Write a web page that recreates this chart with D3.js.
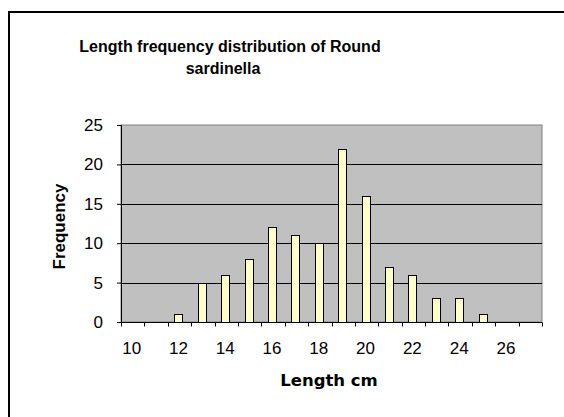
<!DOCTYPE html>
<html>
<head>
<meta charset="utf-8">
<script src="https://cdn.jsdelivr.net/npm/d3@7"></script>
<style>
  body { margin: 0; background: #fff; }
  svg { display: block; font-family: Arial, "Liberation Sans", sans-serif; }
</style>
</head>
<body>
<div id="chart"></div>
<script>
// length classes (cm) and counts
const lengths = [10, 11, 12, 13, 14, 15, 16, 17, 18, 19, 20, 21, 22, 23, 24, 25, 26, 27];
const counts  = [0, 0, 1, 5, 6, 8, 12, 11, 10, 22, 16, 7, 6, 3, 3, 1, 0, 0];
const yTicks = [0, 5, 10, 15, 20, 25];
const xLabels = [10, 12, 14, 16, 18, 20, 22, 24, 26];

const width = 564, height = 417;
const margin = {top: 125, right: 22, bottom: 95, left: 121};

const svg = d3.select("#chart").append("svg")
    .attr("width", width)
    .attr("height", height);

// outer chart frame
svg.append("rect")
    .attr("x", 9).attr("y", 12)
    .attr("width", width + 20).attr("height", height + 20)
    .attr("fill", "none")
    .attr("stroke", "#000")
    .attr("stroke-width", 2);

const x = d3.scaleBand()
    .domain(lengths)
    .range([margin.left, width - margin.right]);

const y = d3.scaleLinear()
    .domain([0, 25])
    .range([height - margin.bottom, margin.top]);

// plot area
svg.append("rect")
    .attr("x", margin.left).attr("y", margin.top)
    .attr("width", width - margin.right - margin.left)
    .attr("height", height - margin.bottom - margin.top)
    .attr("fill", "#c0c0c0")
    .attr("stroke", "#808080");

// gridlines
svg.append("g")
    .selectAll("line")
    .data(yTicks.filter(d => d > 0 && d < 25))
    .join("line")
    .attr("x1", margin.left).attr("x2", width - margin.right)
    .attr("y1", d => Math.round(y(d)) + 0.5).attr("y2", d => Math.round(y(d)) + 0.5)
    .attr("stroke", "#000");

// bars
const barW = 8;
svg.append("g")
    .selectAll("rect")
    .data(lengths.map((l, i) => ({l, v: counts[i]})).filter(d => d.v > 0))
    .join("rect")
    .attr("x", d => Math.round(x(d.l) + x.bandwidth() / 2 - barW / 2 - 1) + 0.5)
    .attr("y", d => Math.round(y(d.v)) + 0.5)
    .attr("width", barW)
    .attr("height", d => Math.round(y(0)) - Math.round(y(d.v)))
    .attr("fill", "#ffffcc")
    .attr("stroke", "#000");

// y axis
const yAxis = svg.append("g")
    .attr("transform", `translate(${margin.left},0)`)
    .call(d3.axisLeft(y).tickValues(yTicks).tickSize(4).tickPadding(14));
yAxis.select(".domain").attr("stroke", "#000");
yAxis.selectAll("text").attr("font-size", 17).attr("font-family", "Arial, 'Liberation Sans', sans-serif").attr("fill", "#000");

// x axis: ticks between categories
const xAxisG = svg.append("g")
    .attr("transform", `translate(0,${Math.round(y(0)) + 0.5})`);
xAxisG.append("line")
    .attr("x1", margin.left).attr("x2", width - margin.right)
    .attr("stroke", "#000");
xAxisG.selectAll("line.tick")
    .data(lengths.concat([28]))
    .join("line")
    .attr("class", "tick")
    .attr("x1", (d, i) => Math.round(margin.left + i * x.step()) + 0.5)
    .attr("x2", (d, i) => Math.round(margin.left + i * x.step()) + 0.5)
    .attr("y1", 0).attr("y2", 4)
    .attr("stroke", "#000");
xAxisG.selectAll("text")
    .data(xLabels)
    .join("text")
    .attr("x", d => x(d) + x.bandwidth() / 2 - 1)
    .attr("y", 31)
    .attr("text-anchor", "middle")
    .attr("font-size", 17)
    .text(d => d);

// titles
const title = svg.append("text")
    .attr("text-anchor", "middle")
    .attr("font-size", 16)
    .attr("font-weight", "bold");
title.append("tspan").attr("x", 230).attr("y", 52).text("Length frequency distribution of Round");
title.append("tspan").attr("x", 223).attr("y", 74).text("sardinella");

svg.append("text")
    .attr("transform", `translate(65,${(margin.top + height - margin.bottom) / 2 + 3}) rotate(-90)`)
    .attr("text-anchor", "middle")
    .attr("font-size", 17)
    .attr("font-weight", "bold")
    .text("Frequency");

svg.append("text")
    .attr("x", 329)
    .attr("y", 386)
    .attr("text-anchor", "middle")
    .attr("font-family", "'DejaVu Sans', Verdana, sans-serif")
    .attr("font-size", 16.5)
    .attr("font-weight", "bold")
    .text("Length cm");
</script>
</body>
</html>
